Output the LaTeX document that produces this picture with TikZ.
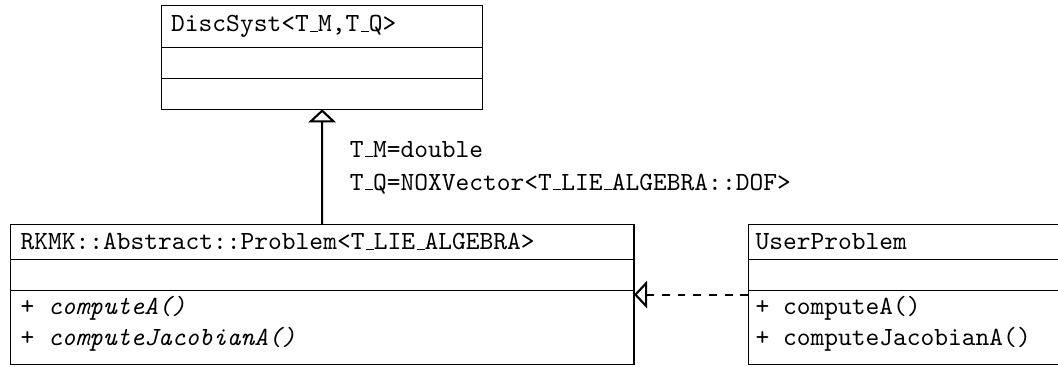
\documentclass[tikz,border=0pt]{standalone}
\usepackage{tikz}
\usetikzlibrary{arrows.meta}

% narrow underscore, as in OT1 typewriter
\newcommand{\usc}{\leavevmode\kern.06em\vbox{\hrule width.3em}}

\tikzset{
    classbox/.style={draw, rectangle, inner sep=0pt, outer sep=0pt},
    classtext/.style={anchor=base west, inner sep=0pt, font=\ttfamily},
    inherits/.style={line width=0.8pt, -{Triangle[open, length=5pt, width=10.5pt]}},
    implements/.style={line width=0.8pt, dashed, -{Triangle[open, length=5pt, width=10.5pt]}},
}

\begin{document}
\begin{tikzpicture}
    \useasboundingbox (0,0) rectangle (14.193,4.923);
    \clip (0,0) rectangle (14.193,4.923);

    % --- DiscSyst ---
    \node[classbox, minimum width=4.306cm, minimum height=1.395cm] (disc) at (4.322,4.1545) {};
    \foreach \y in {4.283,3.864} {
        \draw (2.169,\y) -- (6.475,\y);
    }
    \node[classtext] (discname) at (2.29,4.498) {DiscSyst<T\usc M,T\usc Q>};

    % --- RKMK::Abstract::Problem ---
    \node[classbox, minimum width=8.367cm, minimum height=1.887cm] (rkmk) at (4.3215,0.9705) {};
    \node[classtext] (rkmkname) at (0.27,1.570) {RKMK::Abstract::Problem<T\usc LIE\usc ALGEBRA>};
    \node[classtext] (rkmkopa) at (0.27,0.698) {+ \textit{computeA()}};
    \node[classtext] (rkmkopb) at (0.27,0.282) {+ \textit{computeJacobianA()}};

    % --- UserProblem ---
    \node[classbox, minimum width=4.316cm, minimum height=1.887cm] (user) at (12.196,0.9705) {};
    \node[classtext] (username) at (10.13,1.570) {UserProblem};
    \node[classtext] (useropa) at (10.13,0.698) {+ computeA()};
    \node[classtext] (useropb) at (10.13,0.282) {+ computeJacobianA()};

    \foreach \y in {1.445,1.020} {
        \draw (0.138,\y) -- (8.505,\y);
        \draw (10.038,\y) -- (14.354,\y);
    }

    % --- relations ---
    \draw[inherits] (rkmk.north) -- (disc.south);
    \node[classtext] (bindm) at (4.686,2.813) {T\usc M=double};
    \node[classtext] (bindq) at (4.686,2.374) {T\usc Q=NOXVector<T\usc LIE\usc ALGEBRA::DOF>};
    \draw[implements] (user.west) -- (rkmk.east);
\end{tikzpicture}
\end{document}
